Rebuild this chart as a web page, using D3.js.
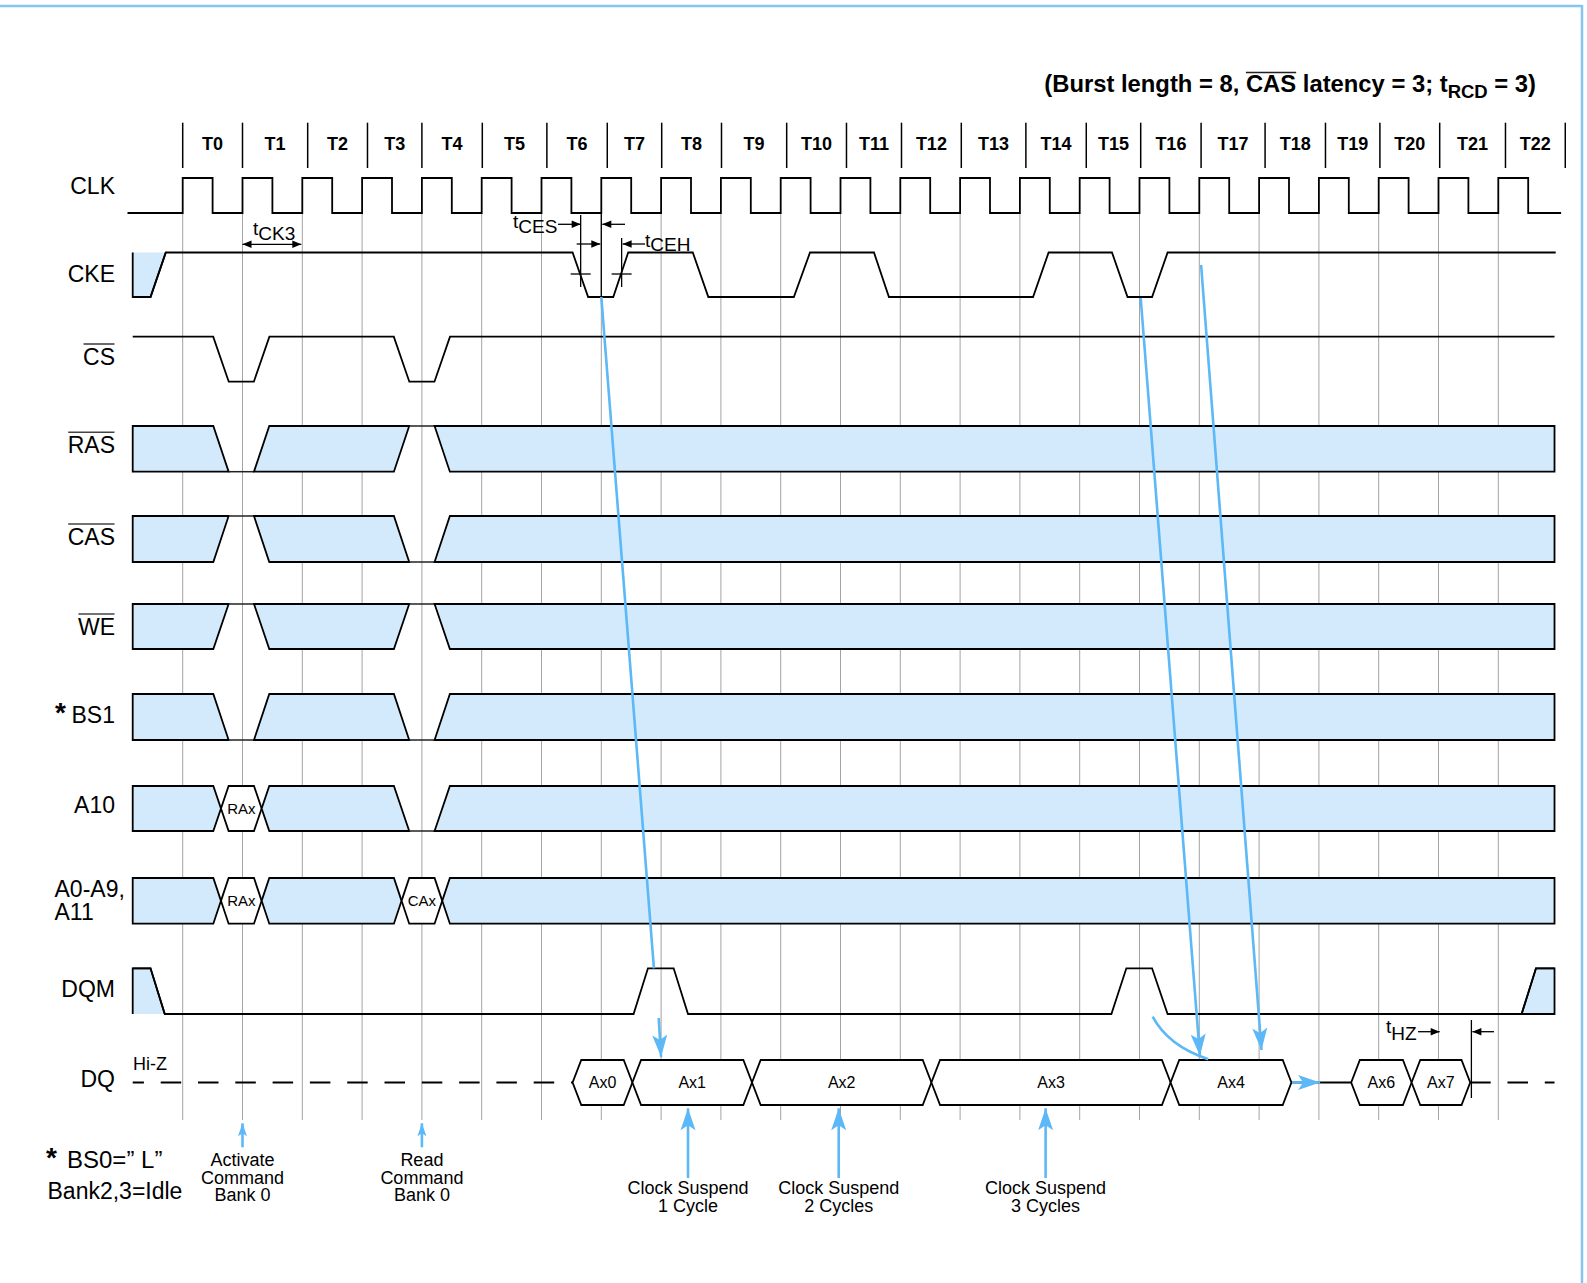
<!DOCTYPE html>
<html>
<head>
<meta charset="utf-8">
<script src="https://cdn.jsdelivr.net/npm/d3@7"></script>
<style>
  body { margin: 0; background: #fff; }
  svg { display: block; font-family: "Liberation Sans", Arial, sans-serif; }
</style>
</head>
<body>
<svg id="chart" width="1587" height="1283"></svg>
<script>
// ---- data (times are in clock cycles, T0 rising edge = 0) ----
const cycles = d3.range(0, 23);
const cycleLabels = cycles.map(function (c) { return 'T' + c; });
const headerTicks = [0, 1, 2.09, 3.09, 4, 5.01, 6.09, 7.1, 8.01, 9.01, 10.1, 11.1, 12.02,
  13.02, 14.1, 15.11, 16.02, 17.03, 18.1, 19.11, 20.02, 21.02, 22.12, 23.12];

// single line signals: [time, level]  (1 = high, 0 = low)
const ckeWave = [[-0.836, 0], [-0.538, 0], [-0.283, 1], [6.52, 1], [6.78, 0], [7.2, 0], [7.45, 1],
  [8.53, 1], [8.79, 0], [10.22, 0], [10.49, 1], [11.56, 1], [11.81, 0], [14.22, 0], [14.48, 1],
  [15.54, 1], [15.8, 0], [16.21, 0], [16.47, 1], [22.96, 1]];
const csWave = [[-0.836, 1], [0.51, 1], [0.77, 0], [1.19, 0], [1.45, 1], [3.53, 1], [3.79, 0],
  [4.21, 0], [4.47, 1], [22.94, 1]];
const dqmWave = [[-0.836, 1], [-0.538, 1], [-0.3, 0], [7.54, 0], [7.78, 1], [8.21, 1], [8.45, 0],
  [15.53, 0], [15.78, 1], [16.21, 1], [16.47, 0], [22.39, 0], [22.63, 1], [22.94, 1]];

// command bus rows: x = don't care, h / l = level, anything else = value
const cmdEdges = [0.64, 1.32, 3.66, 4.34];
const rasStates = ['x', 'l', 'x', 'h', 'x'];
const casStates = ['x', 'h', 'x', 'l', 'x'];
const weStates = ['x', 'h', 'x', 'h', 'x'];
const bs1States = ['x', 'l', 'x', 'l', 'x'];
const a10States = ['x', 'RAx', 'x', 'l', 'x'];
const addrStates = ['x', 'RAx', 'x', 'CAx', 'x'];

// DQ: z = hi-z (dashed), m = driven line, others = data words
const dqEdges = [6.52, 7.52, 9.52, 12.52, 16.52, 18.54, 19.54, 20.55, 21.53];
const dqStates = ['z', 'Ax0', 'Ax1', 'Ax2', 'Ax3', 'Ax4', 'm', 'Ax6', 'Ax7', 'z'];

// notes under the chart
const cmdNoteT = [1, 4];
const cmdNoteText = [['Activate', 'Command', 'Bank 0'], ['Read', 'Command', 'Bank 0']];
const suspendNoteT = [8.45, 10.97, 14.43];
const suspendNoteText = [['Clock Suspend', '1 Cycle'], ['Clock Suspend', '2 Cycles'], ['Clock Suspend', '3 Cycles']];

// ---- layout ----
var svg = d3.select('#chart');
var x = d3.scaleLinear().domain([0, 22]).range([182.7, 1498.3]);
var tStart = -0.836, tEnd = 22.94;
var BLUE_FILL = '#d3eafc', ARROW = '#5cb8f6', GRID = '#a3a3a3';

var rows = {
  clk: { hi: 178, lo: 213 },
  cke: { hi: 252.5, lo: 297 },
  cs: { hi: 336.7, lo: 381.7 },
  ras: { hi: 426, lo: 471.7 },
  cas: { hi: 516, lo: 562 },
  we: { hi: 604, lo: 649 },
  bs1: { hi: 694, lo: 740 },
  a10: { hi: 786, lo: 831 },
  addr: { hi: 878, lo: 923.7 },
  dqm: { hi: 968.3, lo: 1014 },
  dq: { hi: 1060, lo: 1105 }
};
var lvlY = function (row, v) { return row.lo + (row.hi - row.lo) * v; };
var waveLine = function (row) {
  return d3.line().x(function (d) { return x(d[0]); }).y(function (d) { return lvlY(row, d[1]); });
};

// arrow heads
var defs = svg.append('defs');
var addMarker = function (id, path, color, orient) {
  defs.append('marker').attr('id', id)
    .attr('viewBox', '-30 -12 32 24').attr('refX', 0).attr('refY', 0)
    .attr('markerWidth', 32).attr('markerHeight', 24)
    .attr('markerUnits', 'userSpaceOnUse').attr('orient', orient || 'auto')
    .append('path').attr('d', path).attr('fill', color);
};
addMarker('bigBlue', 'M0,0 L-22,-7.5 L-17,0 L-22,7.5 Z', ARROW);
addMarker('smallBlue', 'M0,0 L-13,-4.5 L-10,0 L-13,4.5 Z', ARROW);
addMarker('black', 'M0,0 L-9,-3.8 L-9,3.8 Z', '#000', 'auto-start-reverse');

// border
svg.append('line').attr('x1', 0).attr('x2', 1582).attr('y1', 6).attr('y2', 6)
  .attr('stroke', '#86c5f2').attr('stroke-width', 2.5);
svg.append('line').attr('x1', 1582).attr('x2', 1582).attr('y1', 5).attr('y2', 1283)
  .attr('stroke', '#86c5f2').attr('stroke-width', 2.5);

// title
var title = svg.append('text').attr('x', 1536).attr('y', 92).attr('text-anchor', 'end')
  .attr('font-weight', 'bold').attr('font-size', 23.8);
title.append('tspan').text('(Burst length = 8, ');
title.append('tspan').text('CAS');
title.append('tspan').text(' latency = 3; t');
title.append('tspan').attr('font-size', 18.5).attr('dy', 6).text('RCD');
title.append('tspan').attr('dy', -6).text(' = 3)');
var c0 = title.node().getExtentOfChar(19), c2 = title.node().getExtentOfChar(21);
svg.append('line').attr('x1', c0.x).attr('x2', c2.x + c2.width).attr('y1', 72.5).attr('y2', 72.5)
  .attr('stroke', '#222').attr('stroke-width', 1.5);

// grid lines at every rising edge
svg.append('g').selectAll('line').data(cycles).join('line')
  .attr('x1', function (d) { return x(d); }).attr('x2', function (d) { return x(d); })
  .attr('y1', 213).attr('y2', 1120)
  .attr('stroke', GRID).attr('stroke-width', 1);

// header with cycle names
var hdr = svg.append('g');
hdr.selectAll('line').data(headerTicks).join('line')
  .attr('x1', function (d) { return x(d); }).attr('x2', function (d) { return x(d); })
  .attr('y1', 122.7).attr('y2', 168).attr('stroke', '#000').attr('stroke-width', 1.5);
hdr.selectAll('text').data(cycleLabels).join('text')
  .attr('x', function (d, i) { return (x(headerTicks[i]) + x(headerTicks[i + 1])) / 2; })
  .attr('y', 150).attr('text-anchor', 'middle')
  .attr('font-weight', 'bold').attr('font-size', 18).text(function (d) { return d; });

// row labels
var rowNames = ['CLK', 'CKE', 'CS', 'RAS', 'CAS', 'WE', 'BS1', 'A10', 'DQM', 'DQ'];
var rowBase = [194, 281.5, 365, 453.3, 545, 635, 723.3, 813.3, 996.7, 1086.7];
var overlined = ['CS', 'RAS', 'CAS', 'WE'];
var labelG = svg.append('g').attr('font-size', 23);
rowNames.forEach(function (name, i) {
  var t = labelG.append('text').attr('x', 115).attr('y', rowBase[i])
    .attr('text-anchor', 'end').text(name);
  if (overlined.indexOf(name) >= 0) {
    var bb = t.node().getBBox();
    labelG.append('line').attr('x1', bb.x + 0.5).attr('x2', bb.x + bb.width - 0.5)
      .attr('y1', rowBase[i] - 21).attr('y2', rowBase[i] - 21)
      .attr('stroke', '#444').attr('stroke-width', 1.6);
  }
});
labelG.append('text').attr('x', 54.5).attr('y', 896.7).text('A0-A9,');
labelG.append('text').attr('x', 54.5).attr('y', 920).text('A11');
svg.append('text').attr('x', 55).attr('y', 722).attr('font-size', 28)
  .attr('font-weight', 'bold').text('*');

// clock
var clkPts = [[-0.923, 0]];
cycles.forEach(function (c) { clkPts.push([c, 0], [c, 1], [c + 0.5, 1], [c + 0.5, 0]); });
clkPts.push([23.05, 0]);

var sig = svg.append('g').attr('fill', 'none').attr('stroke', '#000').attr('stroke-width', 1.8)
  .attr('stroke-linejoin', 'miter');
sig.append('path').attr('d', waveLine(rows.clk)(clkPts));

// blue don't-care fills at the ends of CKE and DQM
var openFill = function (row, pts, closed) {
  sig.append('path').attr('d', waveLine(row)(pts) + 'Z').attr('fill', BLUE_FILL).attr('stroke', 'none');
  var strokePts = closed ? pts.concat([pts[0]]) : pts.slice().reverse();
  sig.append('path').attr('d', waveLine(row)(strokePts));
};
openFill(rows.cke, [[tStart, 1]].concat(ckeWave.slice(0, 3)).reverse(), false);
openFill(rows.dqm, [[tStart, 0]].concat(dqmWave.slice(0, 3)).reverse(), false);
openFill(rows.dqm, dqmWave.slice(-3).concat([[tEnd, 0]]), true);

sig.append('path').attr('d', waveLine(rows.cke)(ckeWave));
sig.append('path').attr('d', waveLine(rows.cs)(csWave));
sig.append('path').attr('d', waveLine(rows.dqm)(dqmWave));

// bus rows: split states into band polygons and level lines
var busShapes = function (edges, states, tw) {
  var out = [];
  states.forEach(function (s, i) {
    var hasL = i > 0, hasR = i < states.length - 1;
    var bL = hasL ? edges[i - 1] : tStart, bR = hasR ? edges[i] : tEnd;
    var p = hasL ? states[i - 1] : null, q = hasR ? states[i + 1] : null;
    var a = bL - tw / 2, c = bL + tw / 2, a2 = bR - tw / 2, c2 = bR + tw / 2;
    if (s === 'h' || s === 'l' || s === 'z' || s === 'm') {
      var lvl = s === 'h' ? 1 : (s === 'l' ? 0 : 0.5);
      var mid = s === 'z' || s === 'm';
      var left = !hasL ? tStart : (mid ? bL : c);
      var right = !hasR ? tEnd : (mid ? bR : a2);
      out.push({ state: s, line: [[left, lvl], [right, lvl]] });
      return;
    }
    var topL, botL, midL = null, topR, botR, midR = null;
    if (!hasL) { topL = tStart; botL = tStart; }
    else if (p === 'h') { topL = a; botL = c; }
    else if (p === 'l') { topL = c; botL = a; }
    else { topL = c; botL = c; midL = bL; }
    if (!hasR) { topR = tEnd; botR = tEnd; }
    else if (q === 'h') { topR = c2; botR = a2; }
    else if (q === 'l') { topR = a2; botR = c2; }
    else { topR = a2; botR = a2; midR = bR; }
    var pts = [[topL, 1], [topR, 1]];
    if (midR !== null) pts.push([midR, 0.5]);
    pts.push([botR, 0], [botL, 0]);
    if (midL !== null) pts.push([midL, 0.5]);
    out.push({ state: s, poly: pts, center: (bL + bR) / 2 });
  });
  return out;
};

var drawBus = function (row, edges, states, tw, fontSize) {
  var g = svg.append('g');
  var line = waveLine(row);
  busShapes(edges, states, tw).forEach(function (sh) {
    if (sh.poly) {
      g.append('path').attr('d', line(sh.poly) + 'Z')
        .attr('fill', sh.state === 'x' ? BLUE_FILL : '#fff')
        .attr('stroke', '#000').attr('stroke-width', 1.8);
      if (sh.state !== 'x') {
        g.append('text').attr('x', x(sh.center)).attr('y', lvlY(row, 0.5) + fontSize * 0.36)
          .attr('text-anchor', 'middle').attr('font-size', fontSize).text(sh.state);
      }
    } else if (sh.state === 'z') {
      g.append('path').attr('d', line(sh.line)).attr('stroke', '#000').attr('stroke-width', 1.8)
        .attr('stroke-dasharray', '20.5,16.8').attr('stroke-dashoffset', sh.line[0][0] < 0 ? 9.3 : 0);
    } else if (sh.state === 'm') {
      g.append('path').attr('d', line(sh.line)).attr('stroke', '#000').attr('stroke-width', 1.8);
    } else {
      g.append('path').attr('d', line(sh.line)).attr('stroke', '#222').attr('stroke-width', 1.5);
    }
  });
};
drawBus(rows.ras, cmdEdges, rasStates, 0.256, 15);
drawBus(rows.cas, cmdEdges, casStates, 0.256, 15);
drawBus(rows.we, cmdEdges, weStates, 0.256, 15);
drawBus(rows.bs1, cmdEdges, bs1States, 0.256, 15);
drawBus(rows.a10, cmdEdges, a10States, 0.256, 15);
drawBus(rows.addr, cmdEdges, addrStates, 0.256, 15);
drawBus(rows.dq, dqEdges, dqStates, 0.29, 16);

svg.append('text').attr('x', 133).attr('y', 1070).attr('font-size', 18).text('Hi-Z');

// timing marks
var tm = svg.append('g').attr('stroke', '#000').attr('stroke-width', 1.3);
var vline = function (t, y1, y2) {
  tm.append('line').attr('x1', x(t)).attr('x2', x(t)).attr('y1', y1).attr('y2', y2);
};
var hArrow = function (x1, x2, y, both) {
  var l = tm.append('line').attr('x1', x1).attr('x2', x2).attr('y1', y).attr('y2', y)
    .attr('marker-end', 'url(#black)');
  if (both) l.attr('marker-start', 'url(#black)');
};
vline(6.655, 215, 287);
vline(7.34, 238, 287);
vline(7, 213, 297);
tm.append('line').attr('x1', x(6.655) - 10).attr('x2', x(6.655) + 10).attr('y1', 274).attr('y2', 274);
tm.append('line').attr('x1', x(7.34) - 10).attr('x2', x(7.34) + 10).attr('y1', 274).attr('y2', 274);
hArrow(x(1), x(2) - 1, 244.3, true);
hArrow(558, x(6.655), 224.3);
hArrow(625, x(7) + 1, 224.3);
hArrow(576.7, x(7) - 1, 244);
hArrow(645, x(7.34) + 1, 244);
vline(21.55, 1020, 1098);
hArrow(1418, x(21.02), 1031.7);
hArrow(1494, x(21.55) + 1, 1031.7);

var sub = function (tx, ty, main, s, dy) {
  var t = svg.append('text').attr('x', tx).attr('y', ty).attr('font-size', 19).text(main);
  t.append('tspan').attr('dy', dy).text(s);
};
sub(253, 235, 't', 'CK3', 5);
sub(513, 228, 't', 'CES', 5);
sub(645, 246.7, 't', 'CEH', 4.5);
sub(1386, 1033, 't', 'HZ', 7);

// blue cause/effect arrows
var ba = svg.append('g').attr('stroke', ARROW).attr('fill', 'none').attr('stroke-width', 2.6);
var blueLine = function (t1, y1, t2, y2, head) {
  var l = ba.append('line').attr('x1', x(t1)).attr('y1', y1).attr('x2', x(t2)).attr('y2', y2);
  if (head) l.attr('marker-end', 'url(#' + head + ')');
};
blueLine(7, rows.cke.lo, 7.88, rows.dqm.hi);
blueLine(7.96, rows.dqm.lo + 4, 8.0, rows.dq.hi - 3, 'bigBlue');
blueLine(16.02, rows.cke.lo + 1, 17.01, rows.dq.hi - 4, 'bigBlue');
blueLine(17.03, 265, 18.04, rows.dq.hi - 10, 'bigBlue');
ba.append('path')
  .attr('d', 'M' + x(16.22) + ',1016.7 Q' + x(16.48) + ',1046 ' + x(17.15) + ',1059.3');
blueLine(18.55, lvlY(rows.dq, 0.5), 19.02, lvlY(rows.dq, 0.5), 'bigBlue');

cmdNoteT.forEach(function (t) { blueLine(t, 1147.3, t, 1123.3, 'smallBlue'); });
suspendNoteT.forEach(function (t) { blueLine(t, 1178, t, 1108.3, 'bigBlue'); });

// notes
var notes = svg.append('g').attr('font-size', 18).attr('text-anchor', 'middle');
cmdNoteT.forEach(function (t, i) {
  cmdNoteText[i].forEach(function (s, j) {
    notes.append('text').attr('x', x(t)).attr('y', 1166 + j * 17.7).text(s);
  });
});
suspendNoteT.forEach(function (t, i) {
  suspendNoteText[i].forEach(function (s, j) {
    notes.append('text').attr('x', x(t)).attr('y', 1194 + j * 17.7).text(s);
  });
});

svg.append('text').attr('x', 46).attr('y', 1167).attr('font-size', 28)
  .attr('font-weight', 'bold').text('*');
svg.append('text').attr('x', 67).attr('y', 1168).attr('font-size', 24).text('BS0=\u201D L\u201D');
svg.append('text').attr('x', 47.5).attr('y', 1199).attr('font-size', 23).text('Bank2,3=Idle');
</script>
</body>
</html>
